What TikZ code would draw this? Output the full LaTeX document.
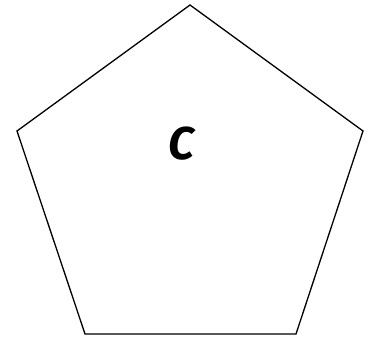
\documentclass[tikz,border=0pt]{standalone}
\usepackage{fontspec}
\newfontfamily\labelfont[BoldFeatures={FakeBold=1.5}]{Fira Sans}
\begin{document}
\begin{tikzpicture}[x=1pt,y=1pt,
  shapeline/.style={draw=black,line width=1.3pt,line join=miter},
  labeltext/.style={font=\labelfont\bfseries\itshape\fontsize{46}{46}\selectfont,inner sep=0pt}]
\useasboundingbox (0,0) rectangle (375,339);
\coordinate (top) at (190,334);
\coordinate (right) at (363,208);
\coordinate (br) at (296,5);
\coordinate (bl) at (85,5);
\coordinate (left) at (17,208);
\draw[shapeline] (top) -- (right) -- (br) -- (bl) -- (left) -- cycle;
\node[labeltext] (c) at (181,195) {C};
\end{tikzpicture}
\end{document}
